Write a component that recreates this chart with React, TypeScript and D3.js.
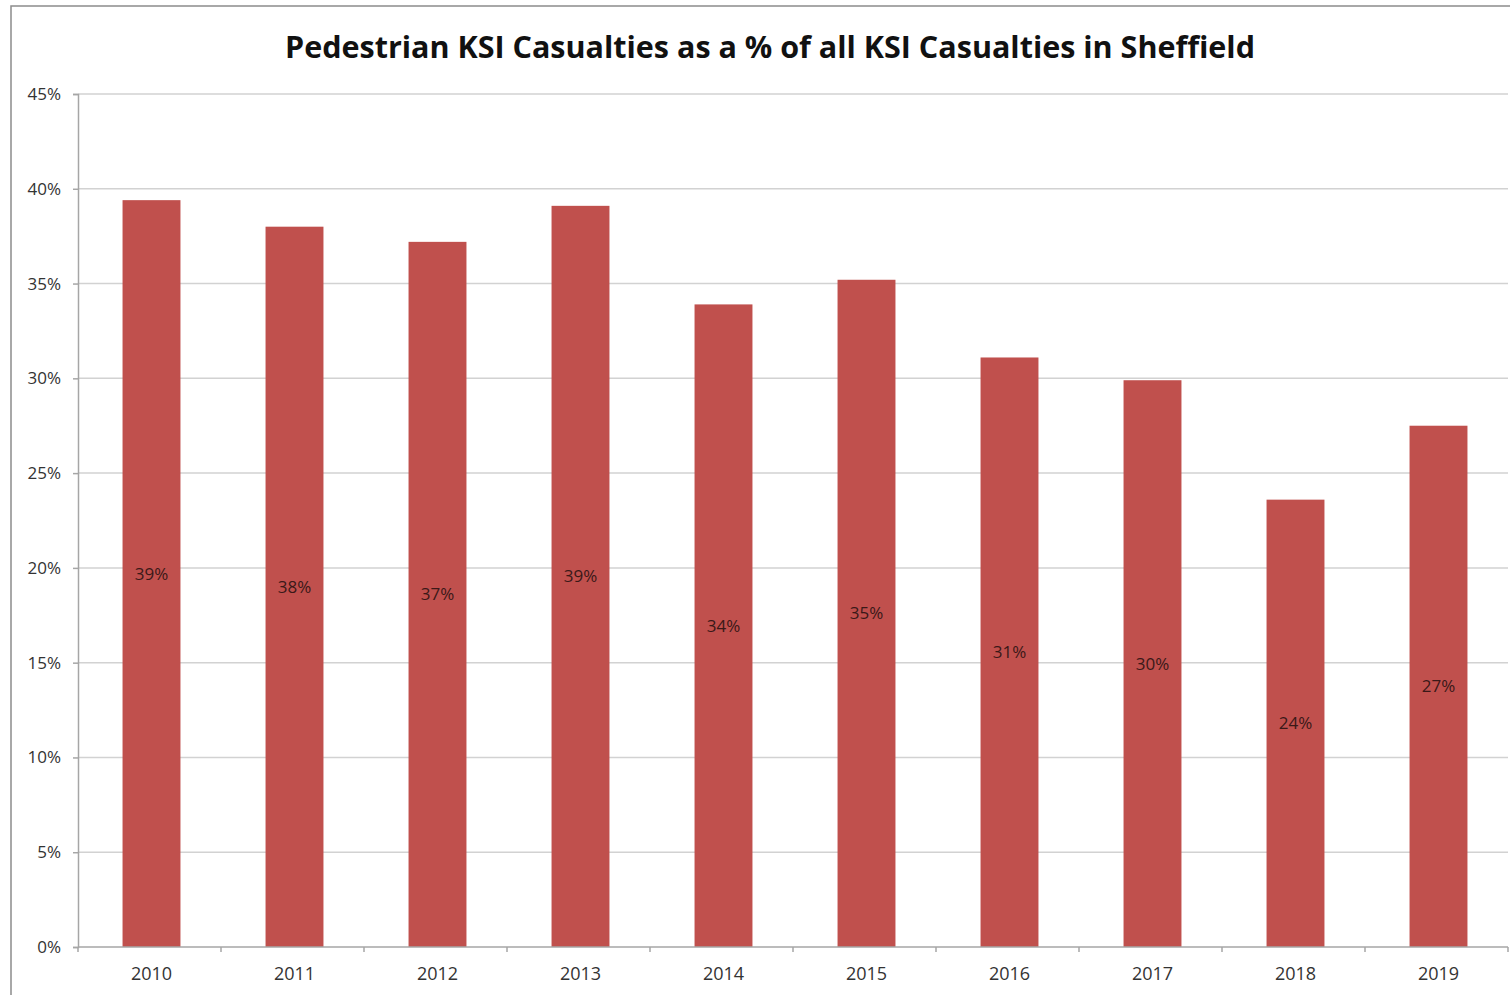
import React, { useEffect, useRef } from 'react';
import * as d3 from 'd3';

const years = ['2010', '2011', '2012', '2013', '2014', '2015', '2016', '2017', '2018', '2019'];
const shares = [39.4, 38.0, 37.2, 39.1, 33.9, 35.2, 31.1, 29.9, 23.6, 27.5];
const labels = ['39%', '38%', '37%', '39%', '34%', '35%', '31%', '30%', '24%', '27%'];
const yTicks = [0, 5, 10, 15, 20, 25, 30, 35, 40, 45];

const W = 1510;
const H = 995;
const M = { left: 78, right: 1508, top: 94, bottom: 947 };
const FONT = "'Open Sans', 'Noto Sans', sans-serif";

export default function App() {
  const ref = useRef<SVGSVGElement>(null);

  useEffect(() => {
    const svg = d3.select(ref.current);
    svg.selectAll('*').remove();

    const band = d3.scaleBand().domain(years).range([M.left, M.right]);
    const x = d3.scaleBand().domain(years).range([M.left + 2, M.right + 2]).paddingInner(0.595).paddingOuter(0.2975);
    const y = d3.scaleLinear().domain([0, 45]).range([M.bottom, M.top]);

    svg.append('rect').attr('width', W).attr('height', H).attr('fill', 'white');

    // chart frame
    svg.append('rect')
      .attr('x', 11).attr('y', 6).attr('width', W + 10).attr('height', H + 10)
      .attr('fill', 'none').attr('stroke', '#8c8c8c').attr('stroke-width', 1.5);

    // title
    svg.append('text')
      .attr('x', 770).attr('y', 58)
      .attr('text-anchor', 'middle')
      .attr('font-family', FONT).attr('font-weight', 700).attr('font-size', 30.5)
      .attr('fill', '#111')
      .text('Pedestrian KSI Casualties as a % of all KSI Casualties in Sheffield');

    // gridlines
    svg.append('g').selectAll('line')
      .data(yTicks.filter(t => t > 0))
      .join('line')
      .attr('x1', M.left).attr('x2', M.right)
      .attr('y1', d => y(d)).attr('y2', d => y(d))
      .attr('stroke', '#d2d2d2').attr('stroke-width', 1.5);

    // y axis
    const yAxis = svg.append('g').attr('transform', `translate(${M.left},0)`)
      .call(d3.axisLeft(y).tickValues(yTicks).tickSize(5).tickFormat(d => `${d}%`));
    yAxis.select('.domain').attr('stroke', '#a6a6a6').attr('stroke-width', 1.5);
    yAxis.selectAll('.tick line').attr('stroke', '#a6a6a6').attr('stroke-width', 1.5);
    yAxis.selectAll('.tick text')
      .attr('x', -17)
      .attr('font-family', FONT).attr('font-size', 17).attr('fill', '#333');

    // bars
    svg.append('g').selectAll('rect')
      .data(years)
      .join('rect')
      .attr('x', d => x(d)!)
      .attr('width', x.bandwidth())
      .attr('y', (d, i) => y(shares[i]))
      .attr('height', (d, i) => y(0) - y(shares[i]))
      .attr('fill', '#c0504d');

    // data labels
    svg.append('g').selectAll('text')
      .data(years)
      .join('text')
      .attr('x', d => x(d)! + x.bandwidth() / 2)
      .attr('y', (d, i) => (y(shares[i]) + y(0)) / 2)
      .attr('dy', '0.35em')
      .attr('text-anchor', 'middle')
      .attr('font-family', FONT).attr('font-size', 17)
      .attr('fill', '#3a1818')
      .text((d, i) => labels[i]);

    // x axis
    svg.append('line')
      .attr('x1', M.left).attr('x2', M.right)
      .attr('y1', M.bottom).attr('y2', M.bottom)
      .attr('stroke', '#a6a6a6').attr('stroke-width', 1.5);
    svg.append('g').selectAll('line')
      .data(years.concat(['end']))
      .join('line')
      .attr('x1', (d, i) => M.left + i * band.step())
      .attr('x2', (d, i) => M.left + i * band.step())
      .attr('y1', M.bottom).attr('y2', M.bottom + 5)
      .attr('stroke', '#a6a6a6').attr('stroke-width', 1.5);
    svg.append('g').selectAll('text')
      .data(years)
      .join('text')
      .attr('x', d => x(d)! + x.bandwidth() / 2)
      .attr('y', 980)
      .attr('text-anchor', 'middle')
      .attr('font-family', FONT).attr('font-size', 18)
      .attr('fill', '#333')
      .text(d => d);
  }, []);

  return (
    <svg ref={ref} width={W} height={H}
      style={{ position: 'absolute', left: 0, top: 0, display: 'block' }} />
  );
}
